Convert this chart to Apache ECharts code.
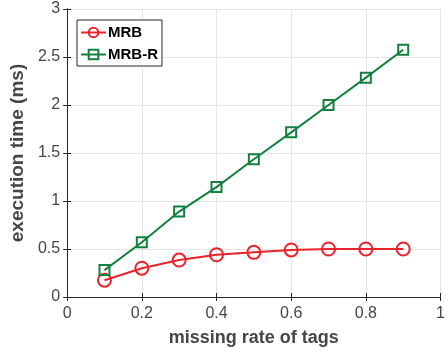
<!DOCTYPE html>
<html>
<head>
<meta charset="utf-8">
<script src="https://cdn.jsdelivr.net/npm/echarts@6/dist/echarts.min.js"></script>
<style>
  html, body { margin: 0; padding: 0; background: #fff; }
  #chart { width: 448px; height: 354px; }
</style>
</head>
<body>
<div id="chart"></div>
<script>
// Missing rate of tags on the x axis
const missingRates = [0.1, 0.2, 0.3, 0.4, 0.5, 0.6, 0.7, 0.8, 0.9];
// Execution time (ms) of each scheme
const mrbTimes = [0.175, 0.30, 0.385, 0.44, 0.465, 0.49, 0.50, 0.50, 0.50];
const mrbrTimes = [0.28, 0.57, 0.89, 1.145, 1.435, 1.715, 2.00, 2.285, 2.575];

const FONT = '"Liberation Sans", Arial, Helvetica, sans-serif';
const AXIS_COLOR = '#262626';
const LABEL_COLOR = '#464646';
const RED = '#e8232b';
const GREEN = '#13803e';

const chart = echarts.init(document.getElementById('chart'), null, { renderer: 'canvas' });

const pairs = (ys) => missingRates.map((x, i) => [x, ys[i]]);

const boxAxisCommon = {
  axisLine: { show: true, lineStyle: { color: AXIS_COLOR, width: 1 } },
  axisTick: { show: true, inside: true, length: 4, lineStyle: { color: AXIS_COLOR } },
  axisLabel: { show: false },
  splitLine: { show: false }
};

chart.setOption({
  animation: false,
  textStyle: { fontFamily: FONT },
  grid: { left: 65, right: 4, top: 9, bottom: 57, containLabel: false },
  xAxis: [
    {
      type: 'value', min: 0, max: 1, interval: 0.2,
      name: 'missing rate of tags', nameLocation: 'middle', nameGap: 32,
      nameTextStyle: { fontFamily: FONT, fontSize: 18, fontWeight: 'bold', color: LABEL_COLOR },
      axisLine: { show: true, lineStyle: { color: AXIS_COLOR, width: 1 } },
      axisTick: { show: true, inside: true, length: 4, lineStyle: { color: AXIS_COLOR } },
      axisLabel: { fontFamily: FONT, fontSize: 16, color: LABEL_COLOR, margin: 9 },
      splitLine: { show: true, lineStyle: { color: '#e5e5e5', width: 1 } }
    },
    Object.assign({ type: 'value', min: 0, max: 1, interval: 0.2, position: 'top' }, boxAxisCommon)
  ],
  yAxis: [
    {
      type: 'value', min: 0, max: 3, interval: 0.5,
      name: 'execution time (ms)', nameLocation: 'middle', nameGap: 32,
      nameTextStyle: { fontFamily: FONT, fontSize: 19, fontWeight: 'bold', color: LABEL_COLOR },
      axisLine: { show: true, lineStyle: { color: AXIS_COLOR, width: 1 } },
      axisTick: { show: true, inside: true, length: 4, lineStyle: { color: AXIS_COLOR } },
      axisLabel: { fontFamily: FONT, fontSize: 16, color: LABEL_COLOR, margin: 7 },
      splitLine: { show: true, lineStyle: { color: '#e5e5e5', width: 1 } }
    },
    Object.assign({ type: 'value', min: 0, max: 3, interval: 0.5, position: 'right' }, boxAxisCommon)
  ],
  legend: {
    orient: 'vertical',
    left: 77, top: 20,
    itemWidth: 25, itemHeight: 12, itemGap: 7,
    padding: [5, 4, 4, 3],
    backgroundColor: '#fff',
    borderColor: AXIS_COLOR, borderWidth: 1, borderRadius: 0,
    textStyle: { fontFamily: FONT, fontSize: 15, fontWeight: 'bold', color: '#000', padding: [0, 0, 0, -3] },
    data: ['MRB', 'MRB-R']
  },
  series: [
    {
      name: 'MRB', type: 'line', data: pairs(mrbTimes),
      symbol: 'circle', symbolSize: 13,
      lineStyle: { color: RED, width: 2 },
      itemStyle: { color: 'rgba(255,255,255,0)', borderColor: RED, borderWidth: 2 },
      z: 3
    },
    {
      name: 'MRB-R', type: 'line', data: pairs(mrbrTimes),
      symbol: 'rect', symbolSize: 10,
      lineStyle: { color: GREEN, width: 2 },
      itemStyle: { color: 'rgba(255,255,255,0)', borderColor: GREEN, borderWidth: 2 },
      z: 4
    }
  ]
});
</script>
</body>
</html>
